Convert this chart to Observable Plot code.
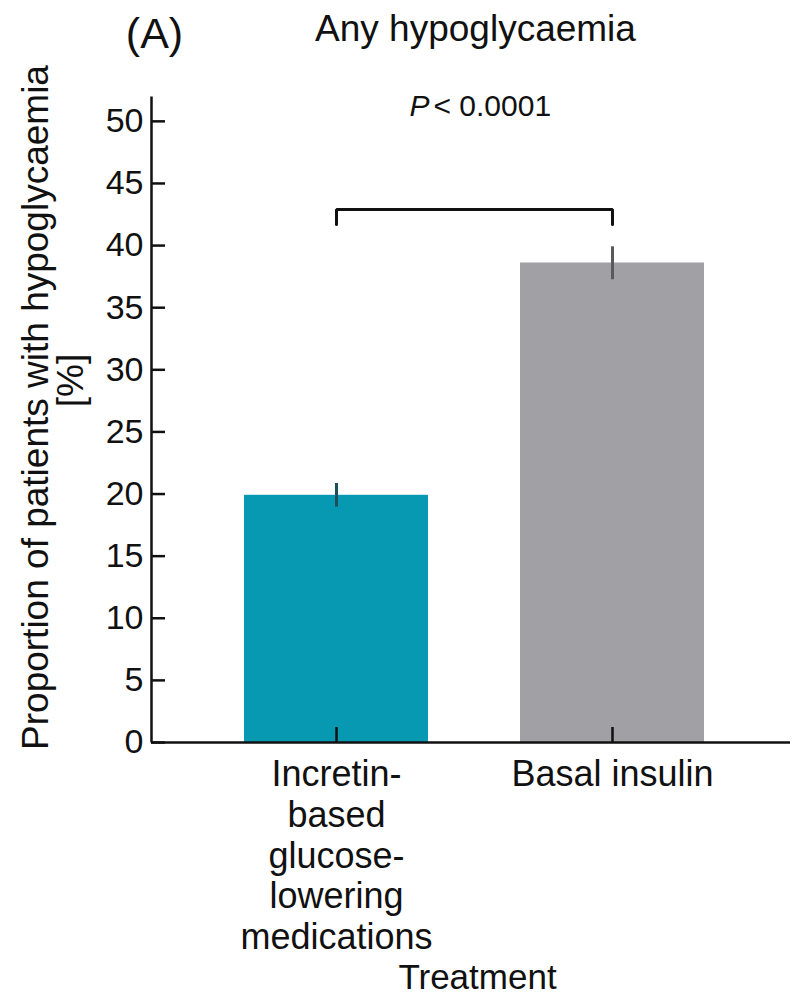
<!DOCTYPE html>
<html>
<head>
<meta charset="utf-8">
<script src="https://cdn.jsdelivr.net/npm/d3@7"></script>
<script src="https://cdn.jsdelivr.net/npm/@observablehq/plot@0.6"></script>
<style>
  html, body { margin: 0; padding: 0; background: #fff; }
  #chart { width: 793px; height: 1001px; }
</style>
</head>
<body>
<div id="chart"></div>
<script>
// ---- data ----
const treatments = ["Incretin-\nbased\nglucose-\nlowering\nmedications", "Basal insulin"];
const proportions = [19.9, 38.6];
const ciLow = [18.95, 37.25];
const ciHigh = [20.85, 39.9];
const barColors = ["#0899b2", "#a1a0a5"];
const errColors = ["#1c4f5e", "#5a5a5e"];
const yTicks = [0, 5, 10, 15, 20, 25, 30, 35, 40, 45, 50];
const bracketTop = 42.9;
const bracketBottom = 41.7;
const titleText = "Any hypoglycaemia";
const panelText = "(A)";
const pLabel = "P";
const pValue = "< 0.0001";
const yLabel1 = "Proportion of patients with hypoglycaemia";
const yLabel2 = "[%]";
const xLabel = "Treatment";

const data = treatments.map((t, i) => ({
  treatment: t, value: proportions[i], lo: ciLow[i], hi: ciHigh[i],
  fill: barColors[i], err: errColors[i]
}));
const bracket = [
  {x: treatments[0], y: bracketBottom},
  {x: treatments[0], y: bracketTop},
  {x: treatments[1], y: bracketTop},
  {x: treatments[1], y: bracketBottom}
];

const W = 793, H = 1001, ML = 151, MR = 3;
const frameW = W - ML - MR;
const font = "'Liberation Sans', Arial, Helvetica, sans-serif";

const chart = Plot.plot({
  width: W,
  height: H,
  marginTop: 96,
  marginBottom: 259,
  marginLeft: ML,
  marginRight: MR,
  style: {fontFamily: font, fontSize: "34px", color: "#111", background: "#fff", overflow: "visible"},
  x: {domain: treatments, paddingInner: 0.334, paddingOuter: 0.324, align: 0.52, label: null},
  y: {domain: [0, 52], label: null},
  marks: [
    Plot.barY(data, {x: "treatment", y: "value", fill: "fill"}),
    Plot.ruleX(data, {x: "treatment", y1: "lo", y2: "hi", stroke: "err", strokeWidth: 3}),
    Plot.line(bracket, {x: "x", y: "y", stroke: "#111", strokeWidth: 3, strokeLinejoin: "miter", curve: "linear"}),
    // y-axis line (left edge of the frame)
    Plot.frame({fill: "#111", stroke: "none", insetLeft: -1.25, insetRight: frameW - 1.25}),
    Plot.ruleY([0], {stroke: "#111", strokeWidth: 2.5}),
    Plot.axisY({ticks: yTicks, tickSize: -14, tickPadding: 22, strokeWidth: 2.5, stroke: "#111",
      fontSize: 34, label: null, tickFormat: d => String(d)}),
    Plot.axisX({tickSize: -15, tickPadding: 30, strokeWidth: 2.5, stroke: "#111", fontSize: 36,
      lineHeight: 1.13, label: null, lineAnchor: "top"}),
    Plot.text([panelText], {frameAnchor: "top-left", text: d => d, dx: 3, dy: -62,
      fontSize: 43, textAnchor: "middle", lineAnchor: "middle"}),
    Plot.text([titleText], {frameAnchor: "top", text: d => d, dx: 4.5, dy: -67,
      fontSize: 37, textAnchor: "middle", lineAnchor: "middle"}),
    Plot.text([pLabel], {frameAnchor: "top", text: d => d, dx: -41.5, dy: 10,
      fontSize: 30, fontStyle: "italic", textAnchor: "end", lineAnchor: "middle"}),
    Plot.text([pValue], {frameAnchor: "top", text: d => d, dx: -37.5, dy: 10,
      fontSize: 30, textAnchor: "start", lineAnchor: "middle"}),
    Plot.text([yLabel1], {frameAnchor: "left", text: d => d, dx: -115, dy: -12, rotate: -90,
      fontSize: 37, textAnchor: "middle", lineAnchor: "middle"}),
    Plot.text([yLabel2], {frameAnchor: "left", text: d => d, dx: -80, dy: -39, rotate: -90,
      fontSize: 37, textAnchor: "middle", lineAnchor: "middle"}),
    Plot.text([xLabel], {frameAnchor: "bottom", text: d => d, dx: 6.5, dy: 235,
      fontSize: 35, textAnchor: "middle", lineAnchor: "middle"})
  ]
});
document.getElementById("chart").appendChild(chart);
</script>
</body>
</html>
